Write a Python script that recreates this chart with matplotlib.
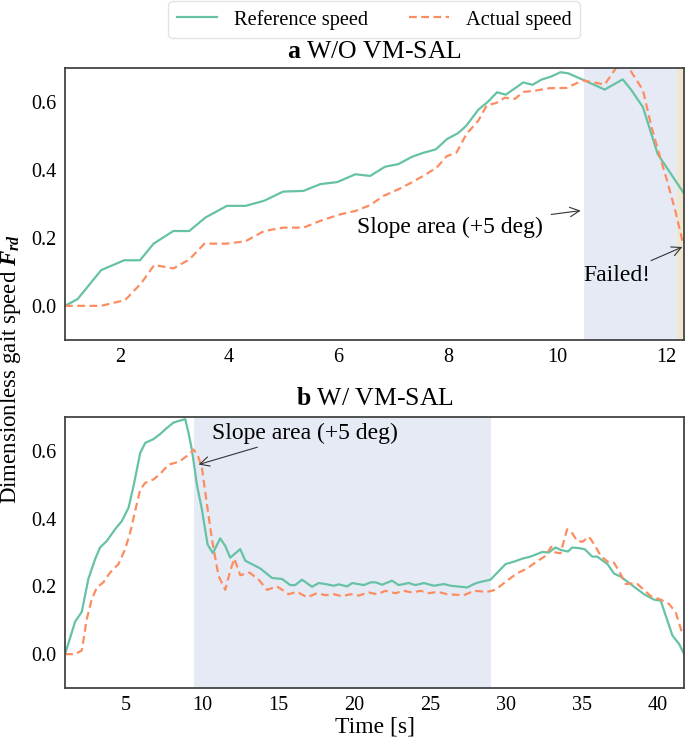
import matplotlib
matplotlib.use("Agg")
import matplotlib.pyplot as plt

plt.rcParams['font.family'] = ['Liberation Serif', 'DejaVu Serif']
plt.rcParams['mathtext.fontset'] = 'custom'
plt.rcParams['mathtext.rm'] = 'Liberation Serif'
plt.rcParams['mathtext.it'] = 'Liberation Serif:italic'
plt.rcParams['mathtext.bf'] = 'Liberation Serif:bold'
plt.rcParams['mathtext.bfit'] = 'Liberation Serif:bold:italic'

# ---------------- data: panel a (W/O VM-SAL) ----------------
t_ref_a = [1.0, 1.23, 1.66, 2.08, 2.37, 2.62, 2.98, 3.27, 3.57, 3.96, 4.30, 4.64, 4.99,
           5.36, 5.67, 5.98, 6.31, 6.58, 6.85, 7.10, 7.34, 7.55, 7.78, 7.99, 8.19, 8.34,
           8.56, 8.74, 8.90, 9.06, 9.23, 9.38, 9.55, 9.71, 9.90, 10.06, 10.20, 10.47,
           10.87, 11.20, 11.36, 11.57, 11.84, 12.31]
v_ref_a = [0.0, 0.02, 0.105, 0.134, 0.134, 0.183, 0.22, 0.22, 0.26, 0.294, 0.294, 0.309,
           0.336, 0.338, 0.358, 0.364, 0.387, 0.382, 0.409, 0.417, 0.438, 0.45, 0.46,
           0.491, 0.508, 0.53, 0.577, 0.601, 0.628, 0.621, 0.64, 0.657, 0.65, 0.665,
           0.675, 0.687, 0.684, 0.665, 0.636, 0.666, 0.634, 0.584, 0.446, 0.333]
t_act_a = [1.0, 1.66, 2.10, 2.39, 2.63, 2.98, 3.27, 3.55, 3.96, 4.30, 4.64, 4.99, 5.36,
           5.67, 6.03, 6.31, 6.58, 6.82, 7.10, 7.34, 7.55, 7.80, 7.98, 8.16, 8.34, 8.56,
           8.71, 8.89, 9.04, 9.23, 9.38, 9.56, 9.86, 10.17, 10.47, 10.87, 11.11, 11.29,
           11.57, 11.72, 11.84, 12.02, 12.17, 12.30]
v_act_a = [0.0, 0.0, 0.017, 0.066, 0.12, 0.11, 0.136, 0.183, 0.183, 0.19, 0.22, 0.23,
           0.23, 0.25, 0.269, 0.279, 0.296, 0.323, 0.343, 0.363, 0.382, 0.407, 0.44,
           0.451, 0.505, 0.545, 0.589, 0.597, 0.612, 0.609, 0.629, 0.632, 0.64, 0.641,
           0.663, 0.651, 0.707, 0.705, 0.634, 0.53, 0.461, 0.363, 0.274, 0.185]

# ---------------- data: panel b (W/ VM-SAL) ----------------
t_ref_b = [1.0, 1.66, 2.1, 2.53, 2.97, 3.3, 3.74, 4.29, 4.73, 5.17, 5.5, 5.94, 6.27,
           6.81, 7.25, 7.69, 8.13, 8.57, 8.9, 9.12, 9.34, 9.56, 9.67, 10.0, 10.37, 10.72,
           11.2, 11.53, 11.86, 12.52, 12.85, 13.84, 14.61, 15.27, 15.81, 16.14, 16.58,
           17.24, 17.68, 18.12, 18.67, 19.0, 19.55, 19.88, 20.65, 21.1, 21.43, 21.85,
           22.5, 22.94, 23.6, 24.04, 24.6, 25.25, 25.91, 26.35, 27.45, 27.89, 28.2,
           28.98, 29.97, 30.51, 31.07, 31.6, 32.4, 32.8, 33.26, 33.58, 34.07, 34.35,
           34.8, 35.17, 35.67, 36.0, 36.67, 37.1, 37.54, 38.42, 39.07, 39.73, 40.17,
           40.94, 41.38, 41.71]
v_ref_b = [0.0, 0.096, 0.125, 0.222, 0.28, 0.315, 0.334, 0.369, 0.393, 0.432, 0.496,
           0.594, 0.624, 0.635, 0.65, 0.668, 0.684, 0.69, 0.694, 0.653, 0.604, 0.535,
           0.5, 0.427, 0.324, 0.298, 0.342, 0.32, 0.285, 0.31, 0.276, 0.253, 0.225,
           0.222, 0.204, 0.204, 0.22, 0.199, 0.21, 0.207, 0.202, 0.206, 0.2, 0.21,
           0.204, 0.212, 0.212, 0.205, 0.217, 0.204, 0.21, 0.204, 0.21, 0.202, 0.207,
           0.202, 0.197, 0.207, 0.212, 0.22, 0.266, 0.273, 0.282, 0.288, 0.302, 0.3,
           0.315, 0.308, 0.303, 0.315, 0.313, 0.31, 0.288, 0.288, 0.266, 0.238, 0.229,
           0.199, 0.177, 0.161, 0.158, 0.055, 0.03, 0.0]
t_act_b = [1.0, 1.66, 2.1, 2.43, 2.76, 3.09, 3.52, 3.96, 4.51, 4.95, 5.28, 5.61, 5.94,
           6.27, 6.81, 7.25, 7.8, 8.24, 8.68, 9.12, 9.45, 9.71, 10.0, 10.33, 10.66,
           11.09, 11.53, 11.86, 12.13, 12.52, 13.13, 13.73, 14.28, 14.94, 15.7, 16.25,
           16.91, 17.57, 18.12, 18.67, 19.22, 19.77, 20.31, 20.97, 21.52, 22.07, 22.73,
           23.28, 23.82, 24.37, 24.92, 25.51, 26.13, 27.22, 27.89, 28.77, 29.3, 30.07,
           30.73, 31.39, 31.93, 32.59, 32.96, 33.26, 33.58, 34.02, 34.35, 34.68, 35.03,
           35.45, 35.8, 36.23, 36.77, 37.1, 37.54, 37.87, 38.32, 38.64, 39.53, 40.17,
           40.72, 41.15, 41.6]
v_act_b = [0.0, 0.0, 0.011, 0.104, 0.163, 0.197, 0.212, 0.241, 0.266, 0.31, 0.359,
           0.423, 0.486, 0.506, 0.516, 0.532, 0.56, 0.565, 0.574, 0.589, 0.604, 0.589,
           0.55, 0.442, 0.339, 0.231, 0.19, 0.246, 0.282, 0.233, 0.241, 0.22, 0.19,
           0.2, 0.177, 0.184, 0.168, 0.18, 0.174, 0.177, 0.171, 0.177, 0.173, 0.182,
           0.177, 0.187, 0.18, 0.187, 0.182, 0.187, 0.18, 0.184, 0.177, 0.174, 0.187,
           0.184, 0.19, 0.217, 0.239, 0.253, 0.271, 0.29, 0.317, 0.3, 0.298, 0.369,
           0.357, 0.334, 0.332, 0.347, 0.324, 0.29, 0.27, 0.27, 0.236, 0.207, 0.209,
           0.207, 0.171, 0.161, 0.148, 0.124, 0.06]

slope_a = (10.5, 12.2)
fail_a = (12.2, 12.32)
slope_b = (9.45, 29.0)

C_REF = '#66c2a5'
C_ACT = '#fc8d62'
C_SHADE = '#e6eaf4'
C_FAIL = '#efe7cf'

fig = plt.figure(figsize=(6.85, 7.42), dpi=100)
ax1 = fig.add_axes([0.095, 0.542, 0.9035, 0.3666])
ax2 = fig.add_axes([0.095, 0.0728, 0.9035, 0.365])

for ax in (ax1, ax2):
    for s in ax.spines.values():
        s.set_color('#444444')
        s.set_linewidth(1.3)
    ax.tick_params(length=0, labelsize=14.5, pad=6)
    ax.set_ylim(-0.1, 0.70)
    ax.set_yticks([0.0, 0.2, 0.4, 0.6])

# panel a
ax1.axvspan(*slope_a, color=C_SHADE, lw=0, zorder=0)
ax1.axvspan(*fail_a, color=C_FAIL, lw=0, zorder=0)
l1, = ax1.plot(t_ref_a, v_ref_a, color=C_REF, lw=1.6, label='Reference speed')
l2, = ax1.plot(t_act_a, v_act_a, color=C_ACT, lw=1.6, ls=(0, (3.5, 2)), label='Actual speed')
ax1.set_xlim(1, 12.32)
ax1.set_xticks([2, 4, 6, 8, 10, 12])
ax1.set_title(r'$\mathbf{a}$ W/O VM-SAL', fontsize=18.5, pad=7)
ax1.annotate('Slope area (+5 deg)', xy=(10.43, 0.28), xytext=(9.74, 0.23),
             fontsize=17, ha='right', va='center',
             arrowprops=dict(arrowstyle='->', color='#333333', lw=0.8, shrinkA=4, shrinkB=0))
ax1.annotate('Failed!', xy=(12.29, 0.173), xytext=(11.09, 0.089),
             fontsize=17, ha='center', va='center',
             arrowprops=dict(arrowstyle='->', color='#333333', lw=0.8, shrinkA=3, shrinkB=0))

# panel b
ax2.axvspan(*slope_b, color=C_SHADE, lw=0, zorder=0)
ax2.plot(t_ref_b, v_ref_b, color=C_REF, lw=1.6)
ax2.plot(t_act_b, v_act_b, color=C_ACT, lw=1.6, ls=(0, (3.5, 2)))
ax2.set_xlim(1, 41.7)
ax2.set_xticks([5, 10, 15, 20, 25, 30, 35, 40])
ax2.set_title(r'$\mathbf{b}$ W/ VM-SAL', fontsize=18.5, pad=9)
ax2.set_xlabel('Time [s]', fontsize=17, labelpad=1)
ax2.annotate('Slope area (+5 deg)', xy=(9.78, 0.56), xytext=(16.8, 0.653),
             fontsize=17, ha='center', va='center',
             arrowprops=dict(arrowstyle='->', color='#333333', lw=0.8, shrinkA=2, shrinkB=0))

fig.text(0.016, 0.503, r'Dimensionless gait speed $\mathbfit{F_{rd}}$', rotation=90,
         fontsize=16.5, ha='center', va='center')

fig.legend(handles=[l1, l2], loc='upper center', bbox_to_anchor=(0.546, 0.998), ncol=2,
           fontsize=14.7, frameon=True, edgecolor='#dddddd', fancybox=True,
           handlelength=2.0, handletextpad=0.8, columnspacing=2.0, borderpad=0.4,
           borderaxespad=0.0)

fig.savefig('out.png', dpi=100)
